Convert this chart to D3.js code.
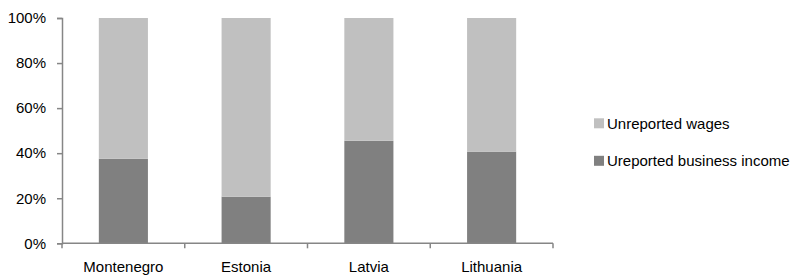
<!DOCTYPE html>
<html>
<head>
<meta charset="utf-8">
<script src="https://cdn.jsdelivr.net/npm/d3@7"></script>
<style>
  html, body { margin: 0; padding: 0; background: #fff; }
  svg { display: block; font-family: "Liberation Sans", Arial, sans-serif; }
</style>
</head>
<body>
<svg id="chart" width="792" height="276"></svg>
<script>
const categories = ["Montenegro", "Estonia", "Latvia", "Lithuania"];
const businessIncome = [37.5, 20.7, 45.5, 40.7];
const wages = [62.5, 79.3, 54.5, 59.3];
const yTicks = [0, 20, 40, 60, 80, 100];
const seriesNames = ["Unreported wages", "Ureported business income"];
const seriesColors = ["#c0c0c0", "#808080"];

(function () {
const svg = d3.select("#chart");
const mLeft = 62, mRight = 553, mTop = 18, mBottom = 243.3;

const x = d3.scaleBand().domain(categories).range([mLeft, mRight]).paddingInner(0.6).paddingOuter(0.3);
const xTick = d3.scaleBand().domain(categories).range([mLeft, mRight]);
const y = d3.scaleLinear().domain([0, 100]).range([mBottom, mTop]);

const rows = categories.map((c, i) => ({ cat: c, business: businessIncome[i], wages: wages[i] }));
const stack = d3.stack().keys(["business", "wages"]);
const layers = stack(rows);
const colorByKey = { business: seriesColors[1], wages: seriesColors[0] };

svg.append("g").selectAll("g").data(layers).join("g")
  .attr("fill", d => colorByKey[d.key])
  .selectAll("rect").data(d => d).join("rect")
  .attr("x", d => x(d.data.cat))
  .attr("width", x.bandwidth())
  .attr("y", d => y(d[1]))
  .attr("height", d => y(d[0]) - y(d[1]));

const axisColor = "#868686";

// Y axis
const yAxis = svg.append("g").attr("transform", `translate(${mLeft},0)`)
  .call(d3.axisLeft(y).tickValues(yTicks).tickFormat(d => d + "%").tickSize(5).tickPadding(11));
yAxis.select(".domain").attr("stroke", axisColor).attr("stroke-width", 1.5);
yAxis.selectAll(".tick line").attr("stroke", axisColor).attr("stroke-width", 1.5);
yAxis.selectAll("text").attr("fill", "#000").style("font-size", "15px")
  .style("font-family", "'Liberation Sans', Arial, sans-serif");

// X axis line and boundary ticks
const xg = svg.append("g");
xg.append("line").attr("x1", mLeft).attr("x2", mRight).attr("y1", mBottom).attr("y2", mBottom)
  .attr("stroke", axisColor).attr("stroke-width", 1.5);
const boundaries = categories.map(c => xTick(c)).concat([mRight]);
xg.selectAll("line.tk").data(boundaries).join("line").attr("class", "tk")
  .attr("x1", d => d).attr("x2", d => d).attr("y1", mBottom).attr("y2", mBottom + 5)
  .attr("stroke", axisColor).attr("stroke-width", 1.5);
xg.selectAll("text").data(categories).join("text")
  .attr("x", d => xTick(d) + xTick.bandwidth() / 2)
  .attr("y", 272)
  .attr("text-anchor", "middle")
  .style("font-size", "15px")
  .attr("fill", "#000")
  .text(d => d);

// Legend
const legend = svg.append("g");
const legendY = [123.3, 160.8];
seriesNames.forEach((name, i) => {
  legend.append("rect").attr("x", 594).attr("y", legendY[i] - 5).attr("width", 10).attr("height", 10)
    .attr("fill", seriesColors[i]);
  legend.append("text").attr("x", 607).attr("y", legendY[i] + 5.3)
    .style("font-size", "15px").attr("fill", "#000").text(name);
});
})();
</script>
</body>
</html>
